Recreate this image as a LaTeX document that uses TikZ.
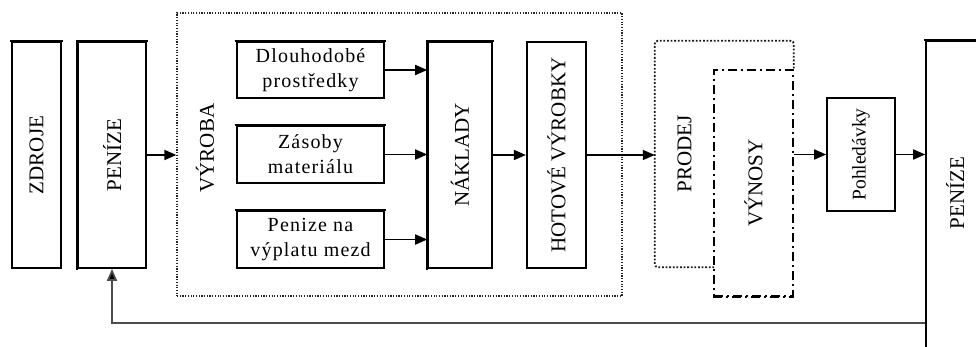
\documentclass[tikz,border=0pt]{standalone}
\usepackage{fontspec}
\setmainfont{Liberation Serif}
\newfontfamily\spacedfont[LetterSpace=6]{Liberation Serif}
\usetikzlibrary{arrows.meta}
\begin{document}
\begin{tikzpicture}[x=1pt,y=-1pt,
 box/.style={draw, line width=1.6pt, inner sep=0pt, anchor=center, font=\fontsize{21}{25}\selectfont},
 hbox/.style={box, align=center, font=\spacedfont\fontsize{20}{25}\selectfont},
 txt/.style={inner sep=0pt, font=\fontsize{21}{25}\selectfont},
 arr/.style={line width=1.7pt, -{Triangle[length=12pt,width=10pt,fill=black]}},
 edgethick/.style={line width=2.5pt, line cap=rect},
 fdot/.style={draw=black!85, line width=1.2pt, dash pattern=on 1.2pt off 1.5pt},
 pdot/.style={draw=black!90, line width=1.8pt, dash pattern=on 1.8pt off 1.8pt, rounded corners=3pt},
 dashdotline/.style={draw, line width=1.5pt, dash pattern=on 9pt off 4pt on 2pt off 4pt}
]
\useasboundingbox (0,0) rectangle (976,347);

% left column
\node[box, minimum width=49pt, minimum height=226pt] (zdroje) at (36.5,155) {\rotatebox{90}{ZDROJE}};
\node[box, minimum width=68pt, minimum height=226pt] (penize1) at (112,155) {\rotatebox{90}{PENÍZE}};

% production block
\node[fdot, minimum width=445pt, minimum height=283pt, inner sep=0pt] (vyroba) at (399.5,154.5) {};
\node[txt] (vyrobalabel) at (205,148) {\rotatebox{90}{VÝROBA}};

\node[hbox, minimum width=147pt, minimum height=56pt] (dl) at (310.5,70) {Dlouhodobé\\prostředky};
\node[hbox, minimum width=147pt, minimum height=57pt] (zas) at (310.5,154.5) {Zásoby\\materiálu};
\node[hbox, minimum width=147pt, minimum height=57pt] (pen) at (310.5,239.5) {Penize na\\výplatu mezd};

\node[box, minimum width=64pt, minimum height=226pt] (naklady) at (460,155) {\rotatebox{90}{NÁKLADY}};
\node[box, line width=2.2pt, minimum width=59pt, minimum height=226pt] (hotove) at (556.5,155) {\rotatebox{90}{HOTOVÉ VÝROBKY}};

% sale / revenues
\node[txt, minimum width=59pt, minimum height=226pt] (prodej) at (684.5,154) {\rotatebox{90}{PRODEJ}};
\node[dashdotline, inner sep=0pt, minimum width=79pt, minimum height=226pt, font=\fontsize{21}{25}\selectfont] (vynosy) at (753.5,183) {\rotatebox{90}{VÝNOSY}};
\draw[pdot] (prodej.south east) -- (prodej.south west) -- (prodej.north west) -- (vynosy.east |- prodej.north) -- (vynosy.north east);
\draw[dashdotline, line width=2.5pt] (vynosy.south west) -- (vynosy.south east);

\node[box, minimum width=68pt, minimum height=113pt, font=\fontsize{19.5}{22}\selectfont] (pohl) at (861,154.5) {\rotatebox{90}{Pohledávky}};

\node[box, minimum width=90pt, minimum height=345pt] (penize2) at (971,213.5) {};
\node[txt] (penize2label) at (955,193) {\rotatebox{90}{PENÍZE}};

% emphasised edges
\draw[edgethick] (zdroje.north west) -- (zdroje.north east);
\draw[edgethick] (penize1.south west) -- (penize1.north west) -- (penize1.north east);
\draw[edgethick] (dl.north west) -- (dl.north east);
\draw[edgethick] (zas.north west) -- (zas.north east);
\draw[edgethick] (pen.north west) -- (pen.north east);
\draw[edgethick] (naklady.south west) -- (naklady.north west) -- (naklady.north east);
\draw[edgethick] (penize2.north west) -- (penize2.north east);

% connectors
\draw[arr] (penize1.east) -- (penize1.east -| vyroba.west);
\draw[arr] (dl.east) -- (dl.east -| naklady.west);
\draw[arr] (zas.east) -- (zas.east -| naklady.west);
\draw[arr] (pen.east) -- (pen.east -| naklady.west);
\draw[arr] (naklady.east) -- (hotove.west);
\draw[arr] (hotove.east) -- (hotove.east -| prodej.west);
\draw[arr] (pohl.west -| vynosy.east) -- (pohl.west);
\draw[arr] (pohl.east) -- (pohl.east -| penize2.west);
\coordinate (fbc) at (112,323);
\draw[arr, draw=black!70] (penize2.west |- fbc) -- (fbc) -- (penize1.south);
\end{tikzpicture}
\end{document}
